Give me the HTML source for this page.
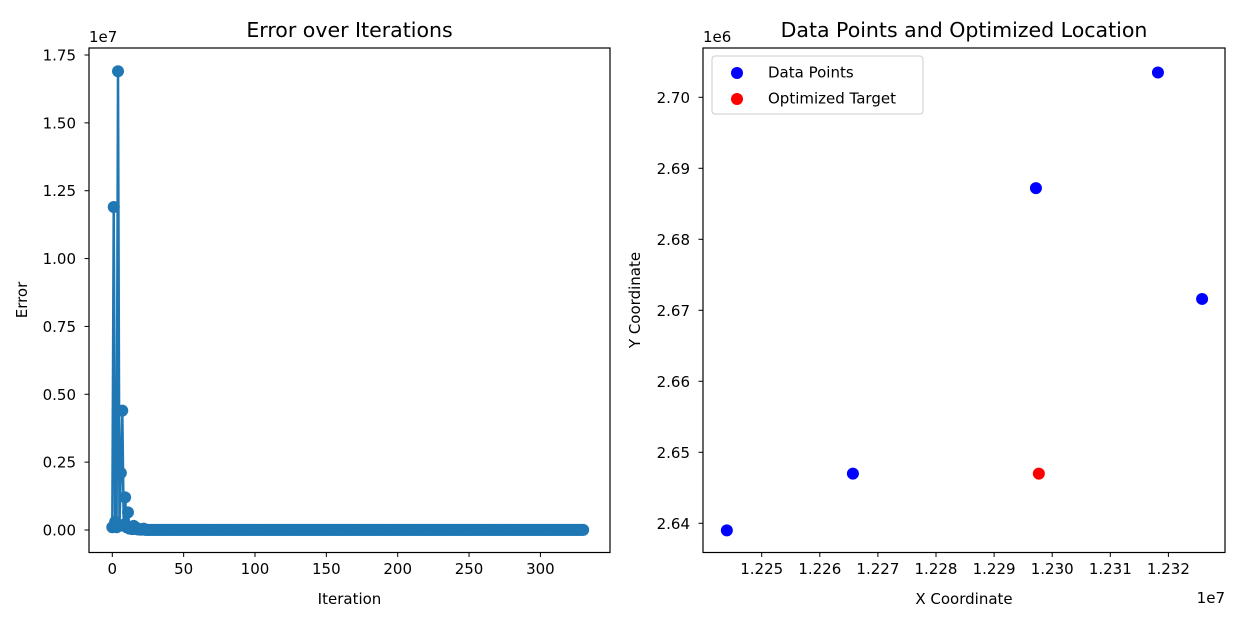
<!DOCTYPE html>
<html><head><meta charset="utf-8"><style>
body{margin:0;background:#fff;font-family:"Liberation Sans","DejaVu Sans",sans-serif}
svg text{font-family:"DejaVu Sans","Liberation Sans",sans-serif;fill:#000}
</style></head><body>
<svg id="c" width="1237" height="624"></svg>
<script>
const errHead=[1.0e5,1.19e7,3e5,1e5,1.69e7,1.5e5,2.1e6,4.4e6,2e5,1.2e6,1e5,6.5e5,5e4,1e5,3e4,1.5e5,4e4,8e4,2e4,3e4,1e4,2e4,5e4];
const errTail=Array(331-errHead.length).fill(5000);
const errValues=errHead.concat(errTail);
const xTicksL=[0,50,100,150,200,250,300];
const yTicksL=[0,0.25,0.5,0.75,1.0,1.25,1.5,1.75];
const dataX=[1.22440,1.22657,1.22972,1.23182,1.23258];
const dataY=[2.6390,2.6470,2.6872,2.7035,2.6716];
const targetX=[1.22977];
const targetY=[2.6470];
const xTicksR=[1.225,1.226,1.227,1.228,1.229,1.230,1.231,1.232];
const yTicksR=[2.64,2.65,2.66,2.67,2.68,2.69,2.70];

const svg=document.getElementById('c');const NS='http://www.w3.org/2000/svg';
function el(t,a,txt){const e=document.createElementNS(NS,t);for(const k in a)e.setAttribute(k,a[k]);if(txt!==undefined)e.textContent=txt;svg.appendChild(e);return e;}
const FS='15', TS='20.5';
// Left
const lx=v=>112.3+v*(255-112.3)/100, ly=v=>530-v/1e7*(530-55)/1.75;
let e;
e=el('text',{x:349.5,y:37,'font-size':TS,'text-anchor':'middle'},'Error over Iterations');

let pts=errValues.map((v,i)=>lx(i)+','+ly(v)).join(' ');
e=el('polyline',{points:pts,fill:'none',stroke:'#1f77b4','stroke-width':2.5});

errValues.forEach((v,i)=>{e=el('circle',{cx:lx(i),cy:ly(v),r:6,fill:'#1f77b4'});
});
e=el('rect',{x:89,y:48,width:521,height:504.5,fill:'none',stroke:'#000','stroke-width':1.2});

xTicksL.forEach(t=>{el('line',{x1:lx(t),x2:lx(t),y1:552.5,y2:557,stroke:'#000'});
e=el('text',{x:lx(t),y:574,'font-size':FS,'text-anchor':'middle'},String(t));
});
yTicksL.forEach(t=>{el('line',{x1:84.5,x2:89,y1:ly(t*1e7),y2:ly(t*1e7),stroke:'#000'});
e=el('text',{x:76,y:ly(t*1e7)+5.5,'font-size':FS,'text-anchor':'end'},t.toFixed(2));
});
e=el('text',{x:89,y:42,'font-size':FS},'1e7');
e=el('text',{x:349.5,y:604,'font-size':FS,'text-anchor':'middle'},'Iteration');
e=el('text',{x:27,y:300,'font-size':FS,'text-anchor':'middle',transform:'rotate(-90 27 300)'},'Error');
// Right
const rx=v=>761.7+(v-1.225)*58100, ry=v=>523.3-(v-2.64)*7100;
e=el('text',{x:964,y:37,'font-size':TS,'text-anchor':'middle'},'Data Points and Optimized Location');

dataX.forEach((x,i)=>{e=el('circle',{cx:rx(x),cy:ry(dataY[i]),r:6,fill:'#0000ff'});
});
targetX.forEach((x,i)=>{e=el('circle',{cx:rx(x),cy:ry(targetY[i]),r:6,fill:'#ff0000'});
});
e=el('rect',{x:703,y:48,width:522,height:504.5,fill:'none',stroke:'#000','stroke-width':1.2});

xTicksR.forEach(t=>{el('line',{x1:rx(t),x2:rx(t),y1:552.5,y2:557,stroke:'#000'});
e=el('text',{x:rx(t),y:574,'font-size':FS,'text-anchor':'middle'},t.toFixed(3));
});
yTicksR.forEach(t=>{el('line',{x1:698.5,x2:703,y1:ry(t),y2:ry(t),stroke:'#000'});
e=el('text',{x:690,y:ry(t)+5.5,'font-size':FS,'text-anchor':'end'},t.toFixed(2));
});
e=el('text',{x:703,y:42,'font-size':FS},'1e6');
e=el('text',{x:1225,y:603,'font-size':FS,'text-anchor':'end'},'1e7');
e=el('text',{x:964,y:604,'font-size':FS,'text-anchor':'middle'},'X Coordinate');
e=el('text',{x:640,y:300,'font-size':FS,'text-anchor':'middle',transform:'rotate(-90 640 300)'},'Y Coordinate');
// Legend
e=el('rect',{x:712,y:56,width:211,height:58,rx:3,fill:'#fff',stroke:'#ccc'});
e=el('circle',{cx:737,cy:73,r:6,fill:'#0000ff'});
e=el('text',{x:768,y:77.5,'font-size':FS},'Data Points');
e=el('circle',{cx:737,cy:99,r:6,fill:'#ff0000'});
e=el('text',{x:768,y:103.5,'font-size':FS},'Optimized Target');
</script></body></html>
